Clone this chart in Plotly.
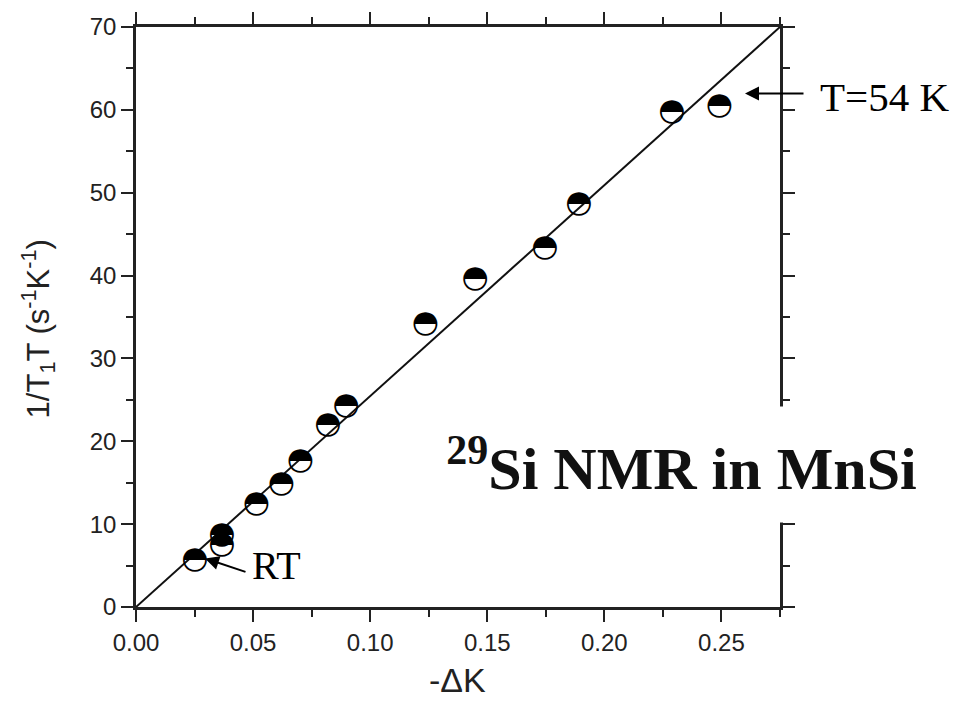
import plotly.graph_objects as go

# Data
dK = [0.0251, 0.0366, 0.0366, 0.0514, 0.0620, 0.0701, 0.0819, 0.0897,
      0.1235, 0.1448, 0.1746, 0.1891, 0.2288, 0.2491]
rate = [5.6, 8.6, 7.4, 12.4, 14.8, 17.55, 21.95, 24.26,
        34.1, 39.57, 43.3, 48.6, 59.76, 60.4]
fit_x = [0.0, 0.275]
fit_y = [0.0, 70.0]

x_ticks = [0.00, 0.05, 0.10, 0.15, 0.20, 0.25]
x_tick_labels = ["0.00", "0.05", "0.10", "0.15", "0.20", "0.25"]
y_ticks = [0, 10, 20, 30, 40, 50, 60, 70]

L, R, T, B = 136, 176, 22, 94
W, H = 956, 701
pw, ph = W - L - R, H - T - B


def px(xp):
    return (xp - L) / pw


def py(yp):
    return (H - B - yp) / ph


fig = go.Figure()
fig.add_trace(go.Scatter(x=fit_x, y=fit_y, mode="lines",
                         line=dict(color="#111", width=2), hoverinfo="skip"))
fig.add_trace(go.Scatter(x=dK, y=rate, mode="text", text=["◓"] * len(dK),
                         textposition="middle center",
                         textfont=dict(family="DejaVu Sans", size=31, color="#000")))

axis_common = dict(showline=True, linecolor="#222", linewidth=2.5, mirror="ticks",
                   ticks="outside", ticklen=12, tickwidth=2, tickcolor="#222",
                   showgrid=False, zeroline=False,
                   tickfont=dict(family="Liberation Sans", size=24, color="#222"))

fig.update_xaxes(range=[0, 0.275], tickvals=x_ticks, ticktext=x_tick_labels,
                 minor=dict(dtick=0.025, ticks="outside", ticklen=7, tickwidth=2,
                            tickcolor="#222", showgrid=False),
                 **axis_common)
fig.update_yaxes(range=[0, 70], tickvals=y_ticks,
                 minor=dict(dtick=5, ticks="outside", ticklen=7, tickwidth=2,
                            tickcolor="#222", showgrid=False),
                 **axis_common)

ann = []
# axis titles
ann.append(dict(xref="paper", yref="paper", x=px(457), y=py(681), text="-ΔK",
                showarrow=False, xanchor="center", yanchor="middle",
                font=dict(family="Liberation Sans", size=34, color="#222")))
ann.append(dict(xref="paper", yref="paper", x=px(38), y=py(327),
                text="1/T<sub>1</sub>T (s<sup>-1</sup>K<sup>-1</sup>)",
                showarrow=False, textangle=-90, xanchor="center", yanchor="middle",
                font=dict(family="Liberation Sans", size=31, color="#222")))
# label box
ann.append(dict(xref="paper", yref="paper", x=px(681.5), y=py(463.5),
                text="<b><sup>29</sup>Si NMR in MnSi</b>", showarrow=False,
                xanchor="center", yanchor="middle", width=483, height=113,
                bgcolor="white", align="center", valign="middle",
                font=dict(family="Liberation Serif", size=60, color="#111")))
# T=54 K label and arrow
ann.append(dict(xref="paper", yref="paper", x=px(884), y=py(93), text="T=54 K",
                showarrow=False, xanchor="center", yanchor="middle",
                font=dict(family="Liberation Serif", size=41, color="#000")))
ann.append(dict(xref="paper", yref="paper", x=px(745), y=py(89), text="",
                showarrow=True, axref="pixel", ayref="pixel", ax=60, ay=0,
                arrowhead=2, arrowsize=1.4, arrowwidth=2, arrowcolor="#000"))
# RT label and arrow
ann.append(dict(xref="paper", yref="paper", x=px(276), y=py(565), text="RT",
                showarrow=False, xanchor="center", yanchor="middle",
                font=dict(family="Liberation Serif", size=40, color="#000")))
ann.append(dict(xref="paper", yref="paper", x=px(205), y=py(558), text="",
                showarrow=True, axref="pixel", ayref="pixel", ax=42, ay=14,
                arrowhead=2, arrowsize=1.4, arrowwidth=2, arrowcolor="#000"))

fig.update_layout(width=W, height=H, margin=dict(l=L, r=R, t=T, b=B),
                  plot_bgcolor="white", paper_bgcolor="white",
                  showlegend=False, annotations=ann)

fig.write_html("out.html")
